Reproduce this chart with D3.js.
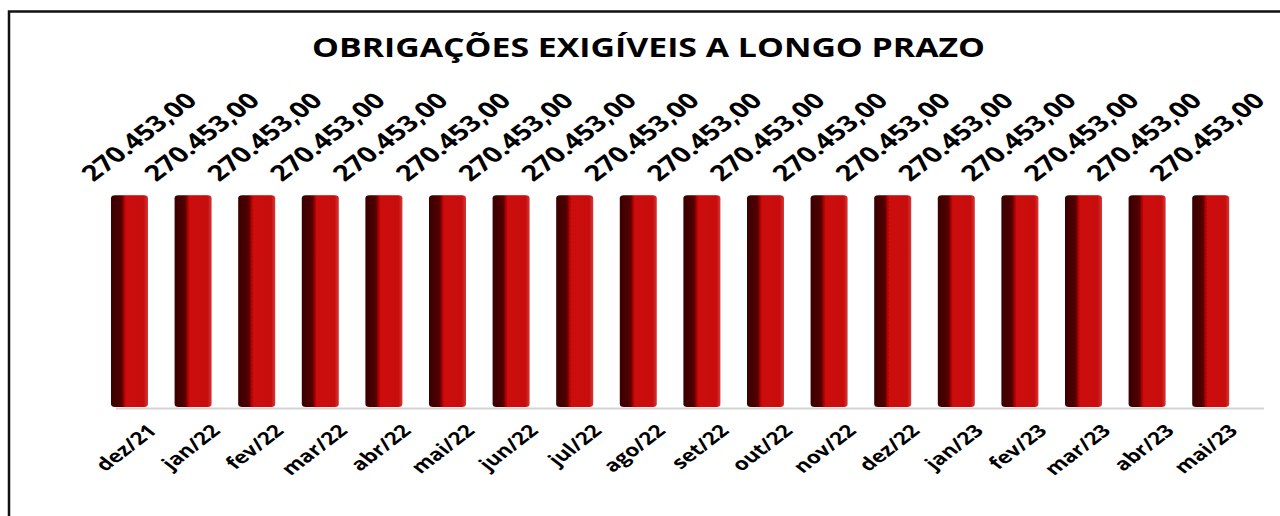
<!DOCTYPE html>
<html>
<head>
<meta charset="utf-8">
<script src="https://cdn.jsdelivr.net/npm/d3@7"></script>
<style>
  body { margin: 0; background: #fff; }
  svg { display: block; font-family: "Open Sans", "DejaVu Sans", sans-serif; }
</style>
</head>
<body>
<div id="chart"></div>
<script>
// data
const meses = ["dez/21", "jan/22", "fev/22", "mar/22", "abr/22", "mai/22", "jun/22", "jul/22", "ago/22",
               "set/22", "out/22", "nov/22", "dez/22", "jan/23", "fev/23", "mar/23", "abr/23", "mai/23"];
const valores = [270453, 270453, 270453, 270453, 270453, 270453, 270453, 270453, 270453,
                 270453, 270453, 270453, 270453, 270453, 270453, 270453, 270453, 270453];
const titulo = "OBRIGAÇÕES EXIGÍVEIS A LONGO PRAZO";

const data = meses.map((m, i) => ({ mes: m, valor: valores[i] }));

let width = 1280;
let height = 516;

// brazilian number format 270.453,00
const fmt = d3.formatLocale({ decimal: ",", thousands: ".", grouping: [3], currency: ["R$", ""] }).format(",.2f");

let svg = d3.select('#chart')
    .append('svg')
    .attr('width', width)
    .attr('height', height);

// the original picture is stretched sideways
const stretch = 1.3;

// frame
svg.append('rect')
    .attr('x', 9)
    .attr('y', 11.5)
    .attr('width', 1300)
    .attr('height', 600)
    .attr('fill', 'none')
    .attr('stroke', '#111')
    .attr('stroke-width', 2.5);

// title
svg.append('text')
    .attr('x', 648.5)
    .attr('y', 57)
    .attr('text-anchor', 'middle')
    .attr('font-size', 26)
    .attr('font-weight', 700)
    .attr('textLength', 673)
    .attr('lengthAdjust', 'spacingAndGlyphs')
    .attr('fill', '#000')
    .text(titulo);

// scales
const x = d3.scaleBand()
    .domain(meses)
    .range([84.4, 1255.8])
    .paddingInner(0.418)
    .paddingOuter(0.418);

const y = d3.scaleLinear()
    .domain([0, 300000])
    .range([407, 172]);

// labels sit on a slightly tighter grid than the bars
const xLabel = d3.scaleLinear()
    .domain([0, meses.length - 1])
    .range([138, 1206]);

// gradient for the fake cylinder
const defs = svg.append('defs');
const grad = defs.append('linearGradient')
    .attr('id', 'barra')
    .attr('x1', '0%').attr('x2', '100%')
    .attr('y1', '0%').attr('y2', '0%');
[[0, '#3a0000'], [0.22, '#4c0000'], [0.30, '#5a0202'], [0.36, '#b80505'],
 [0.42, '#cc0808'], [0.88, '#c80808'], [1, '#d23a3a']].forEach(s => {
    grad.append('stop').attr('offset', s[0]).attr('stop-color', s[1]);
});
defs.append('filter')
    .attr('id', 'suave')
    .append('feGaussianBlur')
    .attr('stdDeviation', 0.7);

// baseline
svg.append('line')
    .attr('x1', 116)
    .attr('x2', 1264)
    .attr('y1', y(0) + 1.5)
    .attr('y2', y(0) + 1.5)
    .attr('stroke', '#d4d4d4')
    .attr('stroke-width', 2);

// bars
svg.selectAll('.barra')
    .data(data)
    .enter()
    .append('rect')
    .attr('class', 'barra')
    .attr('x', d => x(d.mes))
    .attr('y', d => y(d.valor))
    .attr('width', x.bandwidth())
    .attr('height', d => y(0) - y(d.valor))
    .attr('rx', 4)
    .attr('ry', 3)
    .attr('fill', 'url(#barra)')
    .attr('filter', 'url(#suave)');

// value labels
svg.selectAll('.valor')
    .data(data)
    .enter()
    .append('text')
    .attr('class', 'valor')
    .attr('transform', (d, i) => `translate(${xLabel(i)}, ${y(d.valor) - 59}) scale(${stretch},1) rotate(-45)`)
    .attr('text-anchor', 'middle')
    .attr('dominant-baseline', 'central')
    .attr('font-size', 22)
    .attr('font-weight', 700)
    .attr('textLength', 114)
    .attr('lengthAdjust', 'spacingAndGlyphs')
    .text(d => fmt(d.valor));

// category labels
svg.selectAll('.mes')
    .data(data)
    .enter()
    .append('text')
    .attr('class', 'mes')
    .attr('transform', d => `translate(${x(d.mes) + x.bandwidth() / 2 + 22}, 427) scale(${stretch},1) rotate(-45)`)
    .attr('text-anchor', 'end')
    .attr('dominant-baseline', 'central')
    .attr('font-size', 17.5)
    .attr('font-weight', 700)
    .text(d => d.mes);
</script>
</body>
</html>
